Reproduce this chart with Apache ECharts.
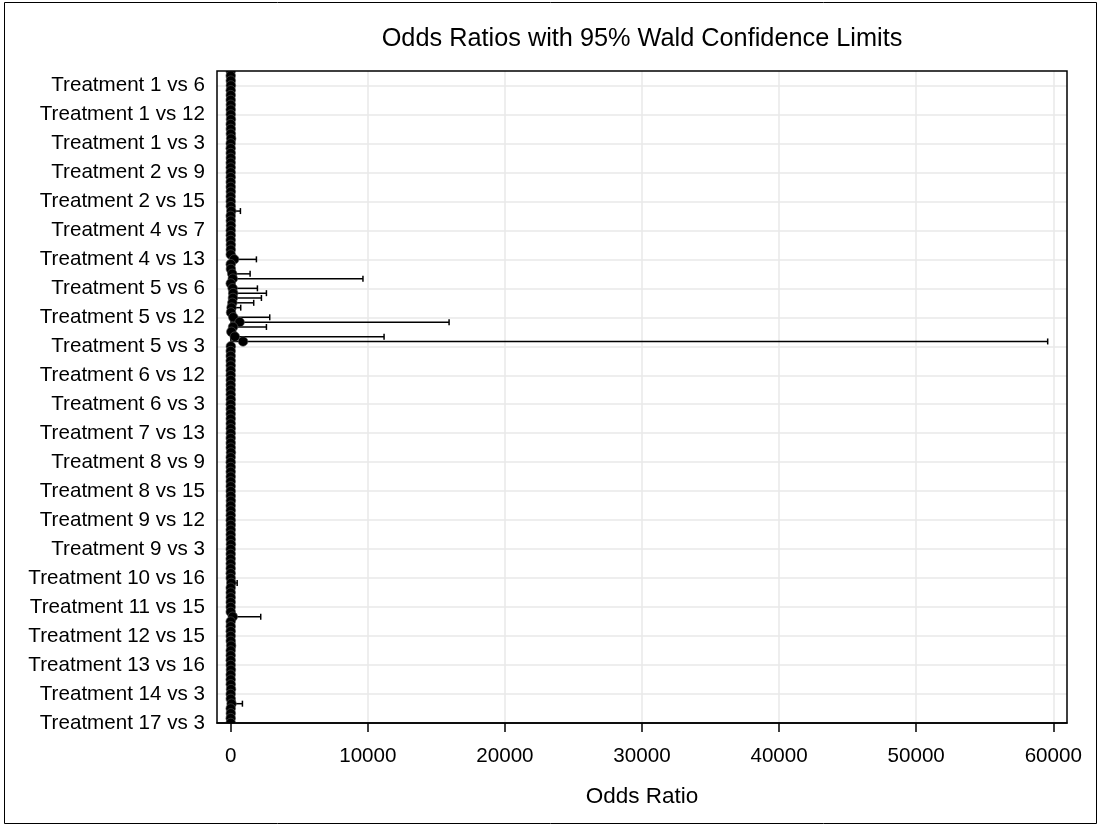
<!DOCTYPE html>
<html><head><meta charset="utf-8">
<script src="https://cdn.jsdelivr.net/npm/echarts@6/dist/echarts.min.js"></script>
<style>html,body{margin:0;padding:0;background:#fff}#c{width:1101px;height:825px}</style>
</head><body><div id="c"></div>
<script>
// Comparisons (level order 1,2,4,5,...,17,3)
const categories = [
 'Treatment 1 vs 2','Treatment 1 vs 4','Treatment 1 vs 5','Treatment 1 vs 6','Treatment 1 vs 7','Treatment 1 vs 8','Treatment 1 vs 9','Treatment 1 vs 10','Treatment 1 vs 11','Treatment 1 vs 12','Treatment 1 vs 13','Treatment 1 vs 14','Treatment 1 vs 15','Treatment 1 vs 16','Treatment 1 vs 17','Treatment 1 vs 3',
 'Treatment 2 vs 4','Treatment 2 vs 5','Treatment 2 vs 6','Treatment 2 vs 7','Treatment 2 vs 8','Treatment 2 vs 9','Treatment 2 vs 10','Treatment 2 vs 11','Treatment 2 vs 12','Treatment 2 vs 13','Treatment 2 vs 14','Treatment 2 vs 15','Treatment 2 vs 16','Treatment 2 vs 17','Treatment 2 vs 3',
 'Treatment 4 vs 5','Treatment 4 vs 6','Treatment 4 vs 7','Treatment 4 vs 8','Treatment 4 vs 9','Treatment 4 vs 10','Treatment 4 vs 11','Treatment 4 vs 12','Treatment 4 vs 13','Treatment 4 vs 14','Treatment 4 vs 15','Treatment 4 vs 16','Treatment 4 vs 17','Treatment 4 vs 3',
 'Treatment 5 vs 6','Treatment 5 vs 7','Treatment 5 vs 8','Treatment 5 vs 9','Treatment 5 vs 10','Treatment 5 vs 11','Treatment 5 vs 12','Treatment 5 vs 13','Treatment 5 vs 14','Treatment 5 vs 15','Treatment 5 vs 16','Treatment 5 vs 17','Treatment 5 vs 3',
 'Treatment 6 vs 7','Treatment 6 vs 8','Treatment 6 vs 9','Treatment 6 vs 10','Treatment 6 vs 11','Treatment 6 vs 12','Treatment 6 vs 13','Treatment 6 vs 14','Treatment 6 vs 15','Treatment 6 vs 16','Treatment 6 vs 17','Treatment 6 vs 3',
 'Treatment 7 vs 8','Treatment 7 vs 9','Treatment 7 vs 10','Treatment 7 vs 11','Treatment 7 vs 12','Treatment 7 vs 13','Treatment 7 vs 14','Treatment 7 vs 15','Treatment 7 vs 16','Treatment 7 vs 17','Treatment 7 vs 3',
 'Treatment 8 vs 9','Treatment 8 vs 10','Treatment 8 vs 11','Treatment 8 vs 12','Treatment 8 vs 13','Treatment 8 vs 14','Treatment 8 vs 15','Treatment 8 vs 16','Treatment 8 vs 17','Treatment 8 vs 3',
 'Treatment 9 vs 10','Treatment 9 vs 11','Treatment 9 vs 12','Treatment 9 vs 13','Treatment 9 vs 14','Treatment 9 vs 15','Treatment 9 vs 16','Treatment 9 vs 17','Treatment 9 vs 3',
 'Treatment 10 vs 11','Treatment 10 vs 12','Treatment 10 vs 13','Treatment 10 vs 14','Treatment 10 vs 15','Treatment 10 vs 16','Treatment 10 vs 17','Treatment 10 vs 3',
 'Treatment 11 vs 12','Treatment 11 vs 13','Treatment 11 vs 14','Treatment 11 vs 15','Treatment 11 vs 16','Treatment 11 vs 17','Treatment 11 vs 3',
 'Treatment 12 vs 13','Treatment 12 vs 14','Treatment 12 vs 15','Treatment 12 vs 16','Treatment 12 vs 17','Treatment 12 vs 3',
 'Treatment 13 vs 14','Treatment 13 vs 15','Treatment 13 vs 16','Treatment 13 vs 17','Treatment 13 vs 3',
 'Treatment 14 vs 15','Treatment 14 vs 16','Treatment 14 vs 17','Treatment 14 vs 3',
 'Treatment 15 vs 16','Treatment 15 vs 17','Treatment 15 vs 3',
 'Treatment 16 vs 17','Treatment 16 vs 3',
 'Treatment 17 vs 3'
];
const oddsRatio = [
 2.1,0.8,5.4,12.0,1.6,3.2,0.9,7.5,2.8,4.1,15.0,1.2,6.3,9.8,30.0,0.6,
 0.4,2.6,5.8,0.8,1.5,0.4,3.6,1.3,2.0,7.2,0.6,3.0,4.7,40.0,0.3,
 6.5,14.2,2.2,3.9,1.1,8.6,5.1,1.8,250,2.4,11.8,110,150,1.5,
 140,180,160,120,60,24,190,650,170,45,300,900,9.4,
 0.3,0.5,0.2,1.4,0.4,0.7,2.3,0.3,0.9,1.6,6.0,0.1,
 1.9,0.6,3.1,1.2,4.8,2.7,0.8,1.4,2.9,16.0,0.5,
 0.3,1.7,0.9,2.5,1.2,0.5,1.9,3.4,10.0,0.2,
 4.7,2.3,1.3,6.0,2.8,1.1,4.2,13.5,0.6,
 0.5,0.3,1.3,0.6,0.2,0.9,40.0,0.2,
 0.6,2.6,1.2,0.4,1.8,150,0.3,
 2.0,0.9,0.7,3.1,25.0,0.5,
 0.4,0.3,1.5,14.0,0.2,
 0.8,3.6,20.0,0.6,
 4.4,60.0,0.7,
 7.8,0.1,
 0.8
];
const lowerCL = [
 0.2,0.07,0.5,1.1,0.15,0.3,0.08,0.7,0.25,0.4,1.3,0.1,0.6,0.9,2.0,0.05,
 0.04,0.25,0.55,0.08,0.14,0.04,0.34,0.12,0.19,0.7,0.06,0.28,0.45,2.3,0.03,
 0.6,1.4,0.2,0.37,0.1,0.8,0.5,0.17,33,0.22,1.1,8.5,2.3,0.14,
 10,12.5,11.4,8.6,4.9,1.8,12.7,26.5,11.1,3.2,8.1,13.6,0.9,
 0.03,0.05,0.02,0.13,0.04,0.07,0.22,0.03,0.09,0.15,0.55,0.01,
 0.18,0.06,0.29,0.11,0.46,0.26,0.08,0.13,0.28,1.4,0.05,
 0.03,0.16,0.09,0.24,0.11,0.05,0.18,0.32,0.9,0.02,
 0.45,0.22,0.12,0.57,0.27,0.1,0.4,1.2,0.06,
 0.05,0.03,0.12,0.06,0.02,0.09,3.4,0.02,
 0.06,0.25,0.11,0.04,0.17,10.3,0.03,
 0.19,0.09,0.07,0.3,2.2,0.05,
 0.04,0.03,0.14,1.3,0.02,
 0.08,0.34,1.8,0.06,
 0.42,4.2,0.07,
 0.74,0.01,
 0.08
];
const upperCL = [
 22,9,58,130,17,34,10,80,31,44,170,14,66,105,280,7,
 4.6,28,61,9,16,4.5,39,14,21,75,6.5,32,50,708,3.2,
 70,150,24,41,12,92,54,19,1875,26,125,1415,9646,16,
 1948,2605,2240,1678,730,250,2846,15928,2605,280,11186,59591,98,
 3.1,5.2,2.1,15,4.2,7.3,24,3.3,9.4,17,66,1.2,
 20,6.2,33,13,51,28,8.3,15,30,185,5.4,
 3.2,18,9.5,26,13,5.3,20,36,115,2.2,
 49,24,14,63,29,12,44,150,6.4,
 5.3,3.2,14,6.4,2.1,9.6,470,2.2,
 6.4,27,13,4.3,19,2189,3.2,
 21,9.6,7.4,33,285,5.3,
 4.3,3.2,16,150,2.1,
 8.5,38,220,6.4,
 46,854,7.4,
 82,1.1,
 8.5
];
const xTickValues = [0,10000,20000,30000,40000,50000,60000];
const titleText = 'Odds Ratios with 95% Wald Confidence Limits';
const xAxisTitle = 'Odds Ratio';

const FONT = '"Liberation Sans", Arial, Helvetica, sans-serif';
const showLabel = function (idx) { return idx % 6 === 3; };

const chart = echarts.init(document.getElementById('c'), null, {renderer: 'canvas'});
chart.setOption({
  animation: false,
  backgroundColor: '#fff',
  textStyle: {fontFamily: FONT},
  title: {
    text: titleText, left: 642, top: 24, textAlign: 'center', padding: 0,
    textStyle: {fontFamily: FONT, fontSize: 25.3, fontWeight: 'normal', color: '#000', lineHeight: 30}
  },
  grid: {left: 217, right: 34, top: 71, bottom: 102, containLabel: false},
  xAxis: {
    type: 'value', min: -1000, max: 61000,
    name: xAxisTitle, nameLocation: 'middle', nameGap: 62,
    nameTextStyle: {fontFamily: FONT, fontSize: 22.5, color: '#000'},
    axisLine: {show: true, lineStyle: {color: '#000', width: 1.5}},
    axisTick: {show: true, customValues: xTickValues, length: 9, lineStyle: {color: '#000', width: 1.5}},
    axisLabel: {customValues: xTickValues, fontFamily: FONT, fontSize: 20.6, color: '#000', margin: 23,
                formatter: function (v) { return String(v); }},
    splitLine: {show: true, lineStyle: {color: '#e9e9e9', width: 1.5}}
  },
  yAxis: {
    type: 'category', data: categories, inverse: true, boundaryGap: false,
    axisLine: {show: false}, axisTick: {show: false},
    axisLabel: {interval: showLabel, fontFamily: FONT, fontSize: 20.6, color: '#000', margin: 12},
    splitLine: {show: true, interval: showLabel, lineStyle: {color: '#e9e9e9', width: 1.5}}
  },
  graphic: [
    {type: 'rect', z: 100, silent: true, shape: {x: 217, y: 71, width: 850, height: 652},
     style: {fill: 'none', stroke: '#000', lineWidth: 1.5}},
    {type: 'rect', z: 100, silent: true, shape: {x: 4.5, y: 2.5, width: 1092, height: 821},
     style: {fill: 'none', stroke: '#000', lineWidth: 1}}
  ],
  series: [
    {
      type: 'custom', z: 2, clip: true,
      data: categories.map(function (c, i) { return [lowerCL[i], i, upperCL[i]]; }),
      encode: {x: [0, 2], y: 1},
      renderItem: function (params, api) {
        const lo = api.coord([api.value(0), api.value(1)]);
        const hi = api.coord([api.value(2), api.value(1)]);
        const h = 3;
        const st = {stroke: '#000', lineWidth: 1.5};
        return {type: 'group', children: [
          {type: 'line', shape: {x1: lo[0], y1: lo[1], x2: hi[0], y2: hi[1]}, style: st},
          {type: 'line', shape: {x1: hi[0], y1: hi[1] - h, x2: hi[0], y2: hi[1] + h}, style: st},
          {type: 'line', shape: {x1: lo[0], y1: lo[1] - h, x2: lo[0], y2: lo[1] + h}, style: st}
        ]};
      }
    },
    {
      type: 'custom', z: 3, clip: true,
      data: oddsRatio.map(function (v, i) { return [v, i]; }),
      encode: {x: 0, y: 1},
      renderItem: function (params, api) {
        const p = api.coord([api.value(0), api.value(1)]);
        return {type: 'circle', shape: {cx: p[0], cy: p[1], r: 4.8},
                style: {fill: '#000', stroke: '#555', lineWidth: 0.6}};
      }
    }
  ]
});
</script>
</body></html>
